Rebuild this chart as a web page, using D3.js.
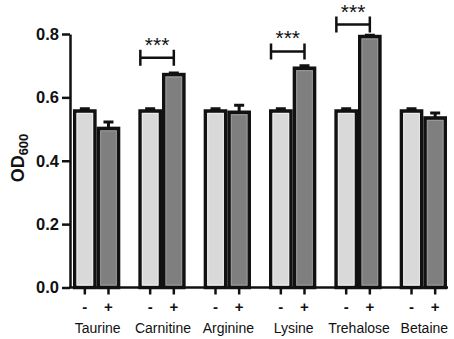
<!DOCTYPE html>
<html>
<head>
<meta charset="utf-8">
<script src="https://cdn.jsdelivr.net/npm/d3@7"></script>
<style>
  body { margin: 0; background: #fff; }
  text { font-family: "Liberation Sans", Arial, sans-serif; }
</style>
</head>
<body>
<svg id="chart" width="454" height="339"></svg>
<script>
// values
var compounds = ['Taurine', 'Carnitine', 'Arginine', 'Lysine', 'Trehalose', 'Betaine'];
var treatments = ['-', '+'];
var controlMean = [0.557, 0.557, 0.557, 0.557, 0.557, 0.557];
var controlErr = [0.007, 0.007, 0.007, 0.007, 0.007, 0.007];
var addedMean = [0.502, 0.672, 0.553, 0.692, 0.792, 0.535];
var addedErr = [0.020, 0.005, 0.022, 0.008, 0.004, 0.016];
var yTicks = [0.0, 0.2, 0.4, 0.6, 0.8];
// significance brackets: compound, bracket height (OD units), label
var sigCompounds = ['Carnitine', 'Lysine', 'Trehalose'];
var sigLevel = [0.725, 0.745, 0.83];
var sigLabel = ['***', '***', '***'];

var fills = {'-': '#d9d9d9', '+': '#7f7f7f'};

var svg = d3.select('#chart');

var margin = {top: 34, left: 70, bottom: 52};
var plotBottom = 339 - margin.bottom + 0.5;

var y = d3.scaleLinear().domain([0, 0.8]).range([plotBottom, margin.top]);
var x = d3.scaleBand().domain(compounds).range([73, 447]).paddingInner(0.276).paddingOuter(0);
var xs = d3.scaleBand().domain(treatments).range([0, x.bandwidth()]);

var bars = [];
compounds.forEach(function(c, i) {
  bars.push({c: c, t: '-', v: controlMean[i], e: controlErr[i]});
  bars.push({c: c, t: '+', v: addedMean[i], e: addedErr[i]});
});

var g = svg.append('g');

// error bars (drawn first so the bar outline covers the lower part)
g.selectAll('.err')
  .data(bars)
  .enter()
  .append('path')
  .attr('class', 'err')
  .attr('fill', 'none')
  .attr('stroke', '#111')
  .attr('stroke-width', 3)
  .attr('d', function(d) {
    var cx = x(d.c) + xs(d.t) + xs.bandwidth() / 2;
    var top = y(d.v + d.e);
    return 'M' + cx + ',' + y(d.v) + 'V' + top + 'M' + (cx - 5) + ',' + top + 'H' + (cx + 5);
  });

g.selectAll('.bar')
  .data(bars)
  .enter()
  .append('rect')
  .attr('class', 'bar')
  .attr('x', d => x(d.c) + xs(d.t) + 1.75)
  .attr('y', d => y(d.v))
  .attr('width', xs.bandwidth() - 3.5)
  .attr('height', d => y(0) - y(d.v))
  .attr('fill', d => fills[d.t])
  .attr('stroke', '#111')
  .attr('stroke-width', 3.5);

// faint inner highlight like the original bars
g.selectAll('.inner')
  .data(bars)
  .enter()
  .append('rect')
  .attr('class', 'inner')
  .attr('x', d => x(d.c) + xs(d.t) + 4)
  .attr('y', d => y(d.v) + 2.5)
  .attr('width', xs.bandwidth() - 8)
  .attr('height', d => y(0) - y(d.v) - 5)
  .attr('fill', 'none')
  .attr('stroke', d => d.t == '-' ? '#ececec' : '#999')
  .attr('stroke-width', 1);

// y axis
var yAxis = svg.append('g')
  .attr('transform', 'translate(' + margin.left + ',0)')
  .call(d3.axisLeft(y).tickValues(yTicks).tickFormat(d3.format('.1f')).tickSize(8).tickSizeOuter(0));
yAxis.select('.domain').attr('stroke', '#111').attr('stroke-width', 2.5);
yAxis.selectAll('.tick line').attr('stroke', '#111').attr('stroke-width', 2.5);
yAxis.selectAll('.tick text')
  .attr('x', -11)
  .attr('fill', '#111')
  .style('font-size', '16.5px')
  .style('font-weight', 'bold');

// x axis line
svg.append('line')
  .attr('x1', margin.left - 1)
  .attr('x2', 448)
  .attr('y1', y(0))
  .attr('y2', y(0))
  .attr('stroke', '#111')
  .attr('stroke-width', 2.5);

// x ticks, -/+ labels
var xt = svg.selectAll('.xt')
  .data(bars)
  .enter()
  .append('g')
  .attr('class', 'xt')
  .attr('transform', d => 'translate(' + (x(d.c) + xs(d.t) + xs.bandwidth() / 2) + ',' + y(0) + ')');
xt.append('line')
  .attr('y1', 0)
  .attr('y2', 7)
  .attr('stroke', '#111')
  .attr('stroke-width', 2.5);
xt.append('text')
  .attr('y', 24)
  .attr('text-anchor', 'middle')
  .attr('fill', '#111')
  .style('font-size', '15px')
  .style('font-weight', 'bold')
  .text(d => d.t);

// compound names
svg.selectAll('.cat')
  .data(compounds)
  .enter()
  .append('text')
  .attr('class', 'cat')
  .attr('x', d => x(d) + x.bandwidth() / 2 + 1)
  .attr('y', 333)
  .attr('text-anchor', 'middle')
  .attr('fill', '#111')
  .style('font-size', '14px')
  .text(d => d);

// significance brackets
sigCompounds.forEach(function(c, i) {
  var x1 = x(c) + 2;
  var x2 = x(c) + xs('+') + xs.bandwidth() / 2;
  var yy = y(sigLevel[i]);
  svg.append('path')
    .attr('fill', 'none')
    .attr('stroke', '#111')
    .attr('stroke-width', 2.5)
    .attr('d', 'M' + x1 + ',' + (yy - 8) + 'V' + (yy + 8) + 'M' + x1 + ',' + yy + 'H' + x2 + 'M' + x2 + ',' + (yy - 8) + 'V' + (yy + 8));
  svg.append('text')
    .attr('x', (x1 + x2) / 2)
    .attr('y', yy - 6)
    .attr('text-anchor', 'middle')
    .attr('fill', '#111')
    .style('font-size', '21px')
    .text(sigLabel[i]);
});

// y label OD600
var yl = svg.append('text')
  .attr('transform', 'translate(24,158) rotate(-90)')
  .attr('text-anchor', 'middle')
  .attr('fill', '#111')
  .style('font-size', '18px')
  .style('font-weight', 'bold');
yl.append('tspan').text('OD');
yl.append('tspan').attr('dy', 4).style('font-size', '13px').text('600');
</script>
</body>
</html>
